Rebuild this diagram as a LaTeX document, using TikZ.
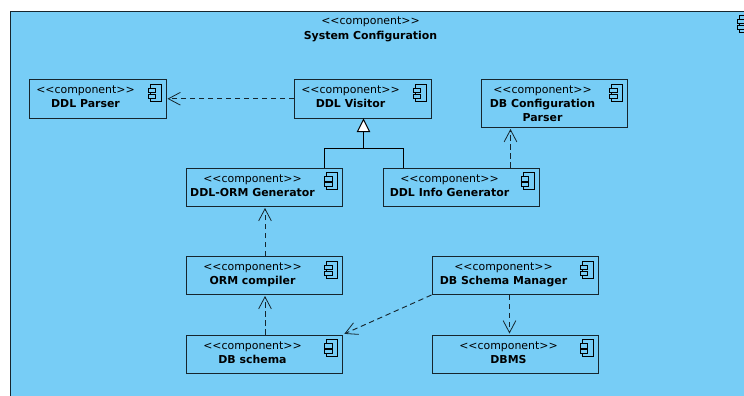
\documentclass[tikz,border=0pt]{standalone}
\usepackage{fontspec}
\setmainfont{DejaVu Sans}
\usetikzlibrary{arrows.meta}
\definecolor{compfill}{HTML}{77CDF6}
\definecolor{compline}{HTML}{16262E}
\tikzset{
  x=0.75pt,y=-0.75pt,
  compbox/.style={draw=compline,line width=0.75pt,fill=compfill,inner sep=0pt,rectangle},
  stereo/.style={font=\fontsize{8.2pt}{10.5pt}\selectfont,inner sep=0pt,anchor=base,text=black},
  cname/.style={font=\fontsize{8.2pt}{10.5pt}\selectfont\bfseries,inner sep=0pt,anchor=north,text=black,align=center},
  depline/.style={draw=compline,line width=0.7pt,dash pattern=on 4pt off 2.75pt,-{Straight Barb[length=9pt,width=9.5pt,line width=0.6pt]}},
  genline/.style={draw=black,line width=0.75pt},
  iconpart/.style={draw=black,line width=0.65pt,fill=compfill}
}
\newcommand{\firstline}{\rule{0pt}{8pt}}
\newcommand{\compicon}[2]{%
  \draw[iconpart] ({#1-16},{#2}) rectangle ({#1-5},{#2+17});
  \draw[iconpart] ({#1-18},{#2+4}) rectangle ({#1-10.5},{#2+8.5});
  \draw[iconpart] ({#1-18},{#2+10}) rectangle ({#1-10.5},{#2+14});
}
% name, left, top, right, bottom, text centre x, title
\newcommand{\comp}[7]{%
  \node[compbox,minimum width={(#4-#2)*0.75pt},minimum height={(#5-#3)*0.75pt}] (#1) at ({(#2+#4)/2},{(#3+#5)/2}) {};
  \compicon{#4}{#3+4.5}
  \node[stereo] (#1s) at (#6,{#3+14}) {<{}<component>{}>};
  \node[cname] (#1n) at (#6,{#3+17.4}) {\firstline #7};
}
\begin{document}
\begin{tikzpicture}
\useasboundingbox (0,0) rectangle (744,396);
\clip (0,0) rectangle (744,396);
\fill[white] (0,0) rectangle (744,396);
\node[draw=compline,line width=0.75pt,fill=compfill,inner sep=0pt,minimum width={740*0.75pt},minimum height={400*0.75pt}] (sys) at (380,211) {};
\node[stereo] (syss) at (370.5,25) {<{}<component>{}>};
\node[cname] (sysn) at (370.5,28.4) {\firstline System Configuration};
\draw[iconpart] (739,15) rectangle (750,32);
\draw[iconpart] (737,19) rectangle (745,23.5);
\draw[iconpart] (737,25) rectangle (745,29);

\comp{parser}{29.5}{79.5}{166}{118}{85.5}{DDL Parser}
\comp{visitor}{294.5}{79.5}{431}{118}{350.5}{DDL Visitor}
\comp{dbconf}{481}{79.5}{627.5}{127.5}{542.5}{DB Configuration\\Parser}
\comp{ormgen}{186.5}{168}{342.5}{206.5}{252.5}{DDL-ORM Generator}
\comp{info}{383}{168}{539}{206.5}{449.5}{DDL Info Generator}
\comp{orm}{186.5}{256.5}{342.5}{294.5}{252.5}{ORM compiler}
\comp{schema}{186.5}{335}{342.5}{373}{252.5}{DB schema}
\comp{manager}{432}{256.5}{598}{294.5}{503.5}{DB Schema Manager}
\comp{dbms}{432}{335}{598}{373}{508.5}{DBMS}

\draw[depline] (visitor.west) -- ([xshift=0.75pt]parser.east);
\draw[depline] (info.north -| 510.5,0) -- ([yshift=-0.75pt]dbconf.south -| 510.5,0);
\draw[depline] (orm.north -| 265,0) -- ([yshift=-0.75pt]ormgen.south -| 265,0);
\draw[depline] (schema.north -| 265,0) -- ([yshift=-0.75pt]orm.south -| 265,0);
\draw[depline] (manager.south -| 509.5,0) -- ([yshift=0.75pt]dbms.north -| 509.5,0);
\draw[depline] (manager.south west) -- ([xshift=1pt,yshift=0.5pt]schema.north east);

\coordinate (junction) at (363.5,148.5);
\draw[genline] (ormgen.north -| 324,0) |- (junction);
\draw[genline] (info.north -| 403,0) |- (junction);
\draw[genline] (junction) -- (363.5,131.5);
\draw[genline,fill=white] (363.5,119.5) -- (369.5,131.5) -- (357.5,131.5) -- cycle;
\end{tikzpicture}
\end{document}
